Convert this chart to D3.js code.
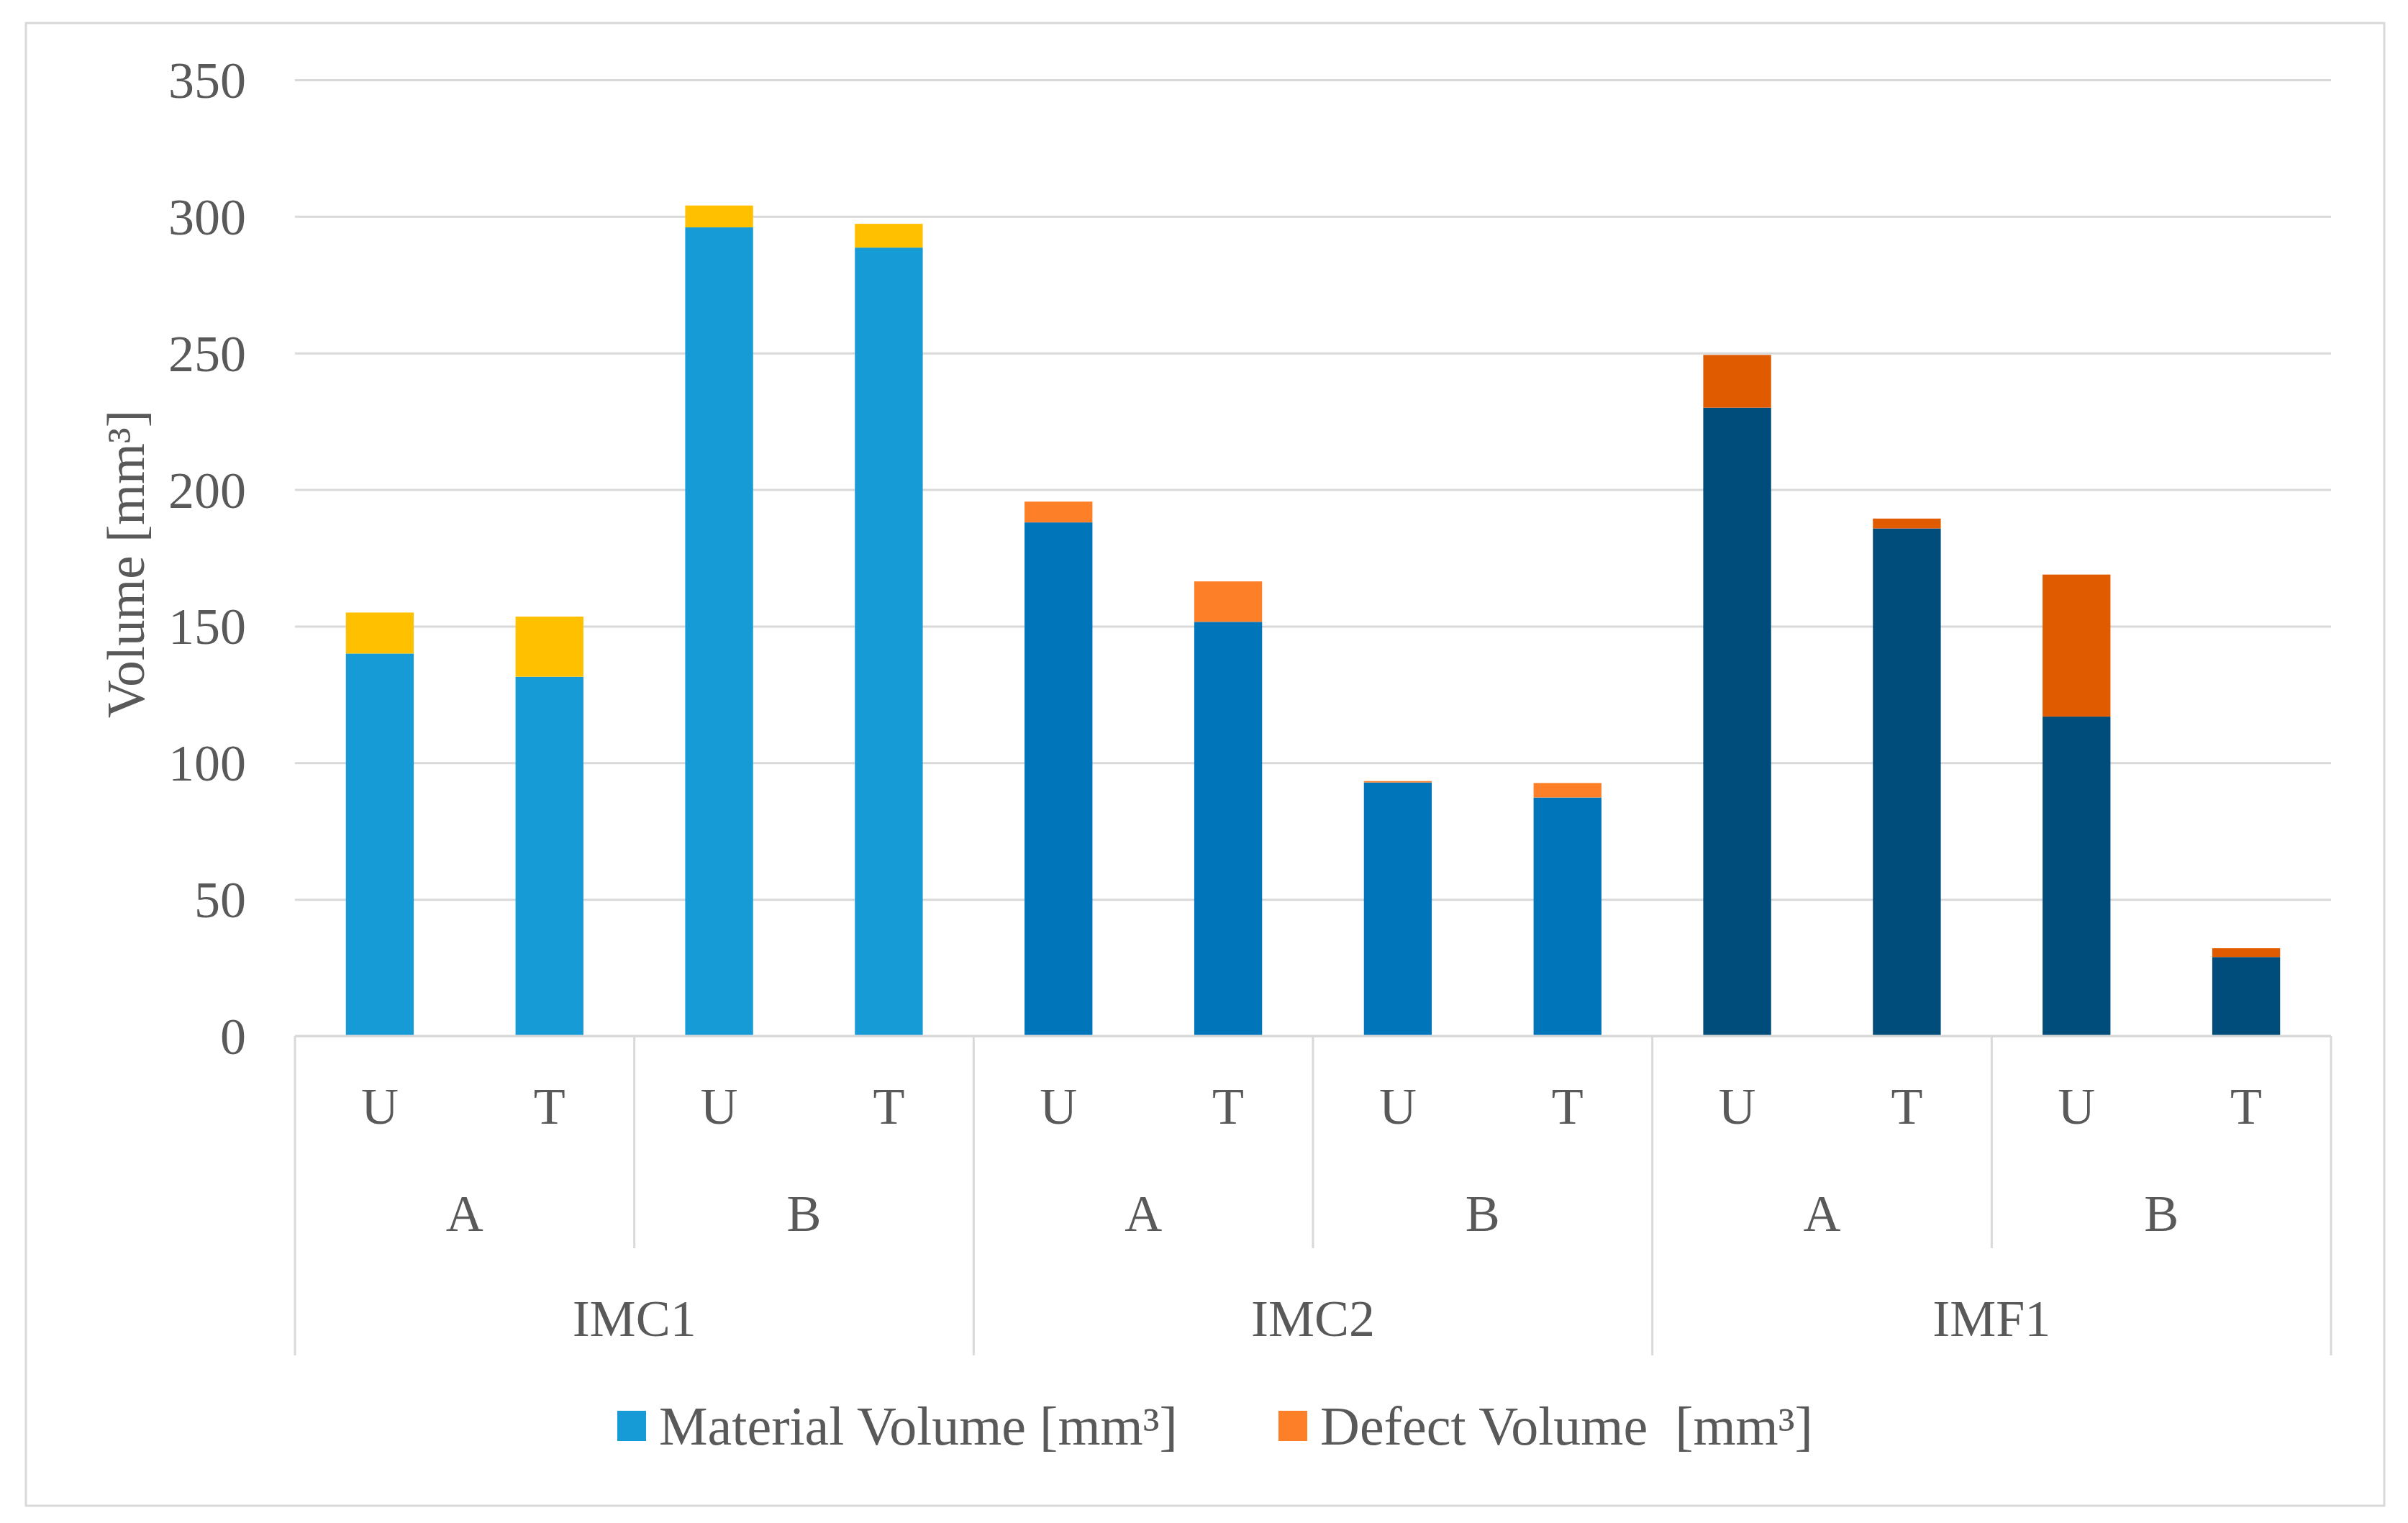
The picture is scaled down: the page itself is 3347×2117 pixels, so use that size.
<!DOCTYPE html>
<html>
<head>
<meta charset="utf-8">
<script src="https://cdn.jsdelivr.net/npm/d3@7"></script>
<style>
  body { margin: 0; background: #fff; }
  svg text { font-family: "Liberation Serif", "DejaVu Serif", serif; fill: #595959; }
</style>
</head>
<body>
<svg id="chart" width="3347" height="2117"></svg>
<script>
// ~~~~~~~~ data ~~~~~~~~
var groups = ["IMC1", "IMC2", "IMF1"];
var sides = ["A", "B"];
var states = ["U", "T"];
var materialVolume = [140, 131.5, 296, 288.6, 188, 151.6, 92.8, 87.3, 230, 185.8, 116.9, 28.9];
var defectVolume = [15, 22, 8, 8.7, 7.6, 14.8, 0.5, 5.3, 19.3, 3.6, 52, 3.2];
var yTicks = [0, 50, 100, 150, 200, 250, 300, 350];
var materialColors = ["#179bd7", "#0075b9", "#004c7a"];
var defectColors = ["#ffc000", "#fd7f27", "#e05a00"];
var legendLabels = ["Material Volume [mm\u00b3]", "Defect Volume  [mm\u00b3]"];

// plot box (note: "top" is taken by window.top)
var plotLeft = 410, plotRight = 3240, plotTop = 111, plotBottom = 1440;
var gridColor = "#d9d9d9";

var svg = d3.select("#chart");

// outer frame
svg.append("rect")
  .attr("x", 36).attr("y", 32)
  .attr("width", 3278).attr("height", 2061)
  .attr("fill", "#fff")
  .attr("stroke", gridColor)
  .attr("stroke-width", 3);

// one slot per bar
var bars = [];
groups.forEach(function (g, gi) {
  sides.forEach(function (s, si) {
    states.forEach(function (st, ti) {
      var i = gi * 4 + si * 2 + ti;
      bars.push({ i: i, group: g, gi: gi, side: s, state: st,
                  material: materialVolume[i], defect: defectVolume[i] });
    });
  });
});

var x = d3.scaleBand()
  .domain(bars.map(function (d) { return d.i; }))
  .range([plotLeft, plotRight])
  .paddingInner(0.6)
  .paddingOuter(0.3);

var y = d3.scaleLinear()
  .domain([0, 350])
  .range([plotBottom, plotTop]);

// y axis + gridlines
var yAxis = d3.axisLeft(y)
  .tickValues(yTicks)
  .tickSize(-(plotRight - plotLeft))
  .tickPadding(68);

var gy = svg.append("g")
  .attr("transform", "translate(" + plotLeft + ",0)")
  .call(yAxis);
gy.select(".domain").remove();
gy.selectAll(".tick line").attr("stroke", gridColor).attr("stroke-width", 3);
gy.selectAll(".tick text")
  .attr("font-size", 72)
  .attr("dy", "0.34em")
  .style("font-family", "Liberation Serif")
  .attr("fill", "#595959");

// stacked bars
var barG = svg.append("g");
barG.selectAll("rect.material")
  .data(bars)
  .enter()
  .append("rect")
  .attr("class", "material")
  .attr("x", function (d) { return x(d.i); })
  .attr("width", x.bandwidth())
  .attr("y", function (d) { return y(d.material); })
  .attr("height", function (d) { return y(0) - y(d.material); })
  .attr("fill", function (d) { return materialColors[d.gi]; });

barG.selectAll("rect.defect")
  .data(bars)
  .enter()
  .append("rect")
  .attr("class", "defect")
  .attr("x", function (d) { return x(d.i); })
  .attr("width", x.bandwidth())
  .attr("y", function (d) { return y(d.material + d.defect); })
  .attr("height", function (d) { return y(d.material) - y(d.material + d.defect); })
  .attr("fill", function (d) { return defectColors[d.gi]; });

// baseline
svg.append("line")
  .attr("x1", plotLeft).attr("x2", plotRight)
  .attr("y1", y(0)).attr("y2", y(0))
  .attr("stroke", gridColor).attr("stroke-width", 3);

// ~~~~~~~~ multi-level category axis ~~~~~~~~
var step = x.step();
var slotLeft = function (i) { return plotLeft + i * step; };
var lvl1Y = 1538, lvl2Y = 1687, lvl3Y = 1833;
var sepSideEnd = 1735, sepGroupEnd = 1884;

var axisG = svg.append("g");

axisG.selectAll("text.state")
  .data(bars)
  .enter()
  .append("text")
  .attr("class", "state")
  .attr("x", function (d) { return x(d.i) + x.bandwidth() / 2; })
  .attr("y", lvl1Y)
  .attr("dy", "0.34em")
  .attr("text-anchor", "middle")
  .attr("font-size", 72)
  .text(function (d) { return d.state; });

var sideCells = [];
groups.forEach(function (g, gi) {
  sides.forEach(function (s, si) {
    sideCells.push({ label: s, start: gi * 4 + si * 2 });
  });
});

axisG.selectAll("text.side")
  .data(sideCells)
  .enter()
  .append("text")
  .attr("class", "side")
  .attr("x", function (d) { return slotLeft(d.start) + step; })
  .attr("y", lvl2Y)
  .attr("dy", "0.34em")
  .attr("text-anchor", "middle")
  .attr("font-size", 72)
  .text(function (d) { return d.label; });

axisG.selectAll("text.group")
  .data(groups)
  .enter()
  .append("text")
  .attr("class", "group")
  .attr("x", function (d, i) { return slotLeft(i * 4) + 2 * step; })
  .attr("y", lvl3Y)
  .attr("dy", "0.34em")
  .attr("text-anchor", "middle")
  .attr("font-size", 72)
  .text(function (d) { return d; });

// separators between A and B
axisG.selectAll("line.sideSep")
  .data(groups)
  .enter()
  .append("line")
  .attr("class", "sideSep")
  .attr("x1", function (d, i) { return slotLeft(i * 4 + 2); })
  .attr("x2", function (d, i) { return slotLeft(i * 4 + 2); })
  .attr("y1", y(0)).attr("y2", sepSideEnd)
  .attr("stroke", gridColor).attr("stroke-width", 3);

// separators between groups (and both ends)
axisG.selectAll("line.groupSep")
  .data(d3.range(groups.length + 1))
  .enter()
  .append("line")
  .attr("class", "groupSep")
  .attr("x1", function (d) { return slotLeft(d * 4); })
  .attr("x2", function (d) { return slotLeft(d * 4); })
  .attr("y1", y(0)).attr("y2", sepGroupEnd)
  .attr("stroke", gridColor).attr("stroke-width", 3);

// y title
svg.append("text")
  .attr("transform", "translate(175,784) rotate(-90)")
  .attr("text-anchor", "middle")
  .attr("dy", "0.34em")
  .attr("font-size", 73)
  .text("Volume [mm\u00b3]");

// ~~~~~~~~ legend ~~~~~~~~
var legendX = [858, 1777];
var legendY = 1982;
var legend = svg.append("g");
legend.selectAll("rect")
  .data(legendLabels)
  .enter()
  .append("rect")
  .attr("x", function (d, i) { return legendX[i]; })
  .attr("y", legendY - 21)
  .attr("width", 40).attr("height", 42)
  .attr("fill", function (d, i) { return i == 0 ? materialColors[0] : defectColors[1]; });

legend.selectAll("text")
  .data(legendLabels)
  .enter()
  .append("text")
  .attr("x", function (d, i) { return legendX[i] + 58; })
  .attr("y", legendY)
  .attr("dy", "0.34em")
  .attr("font-size", 76)
  .style("white-space", "pre")
  .attr("xml:space", "preserve")
  .text(function (d) { return d; });
</script>
</body>
</html>
